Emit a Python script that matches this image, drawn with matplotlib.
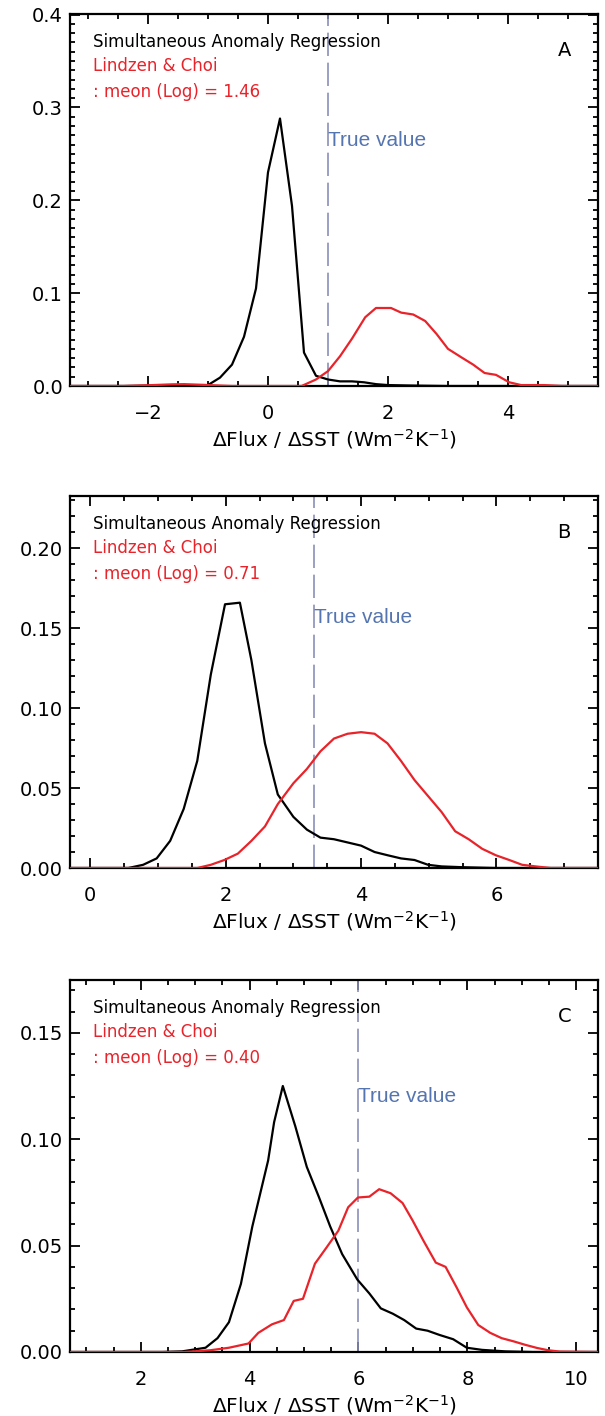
import numpy as np
import matplotlib
matplotlib.use('Agg')
import matplotlib.pyplot as plt
from matplotlib.ticker import MultipleLocator, FormatStrFormatter

# ── Panel A ──────────────────────────────────────────────────────────────────
xa_black = [-3.3, -2.4, -1.8, -1.4, -1.0, -0.8, -0.6, -0.4, -0.2, 0.0, 0.2, 0.4,
            0.6, 0.8, 1.0, 1.2, 1.4, 1.6, 1.8, 2.0, 2.4, 3.0, 5.5]
ya_black = [0.0, 0.0, 0.0005, 0.001, 0.001, 0.009, 0.023, 0.053, 0.105, 0.23,
            0.288, 0.194, 0.036, 0.011, 0.007, 0.005, 0.005, 0.004, 0.002,
            0.001, 0.0005, 0.0, 0.0]
xa_red = [-3.3, -2.4, -2.0, -1.6, -1.4, -1.0, -0.6, 0.0, 0.56, 0.8, 1.0, 1.2,
          1.4, 1.62, 1.8, 2.05, 2.22, 2.42, 2.62, 2.81, 3.0, 3.22, 3.42, 3.61,
          3.8, 4.02, 4.22, 4.6, 4.9, 5.5]
ya_red = [0.0, 0.0, 0.0008, 0.0018, 0.002, 0.001, 0.0, 0.0, 0.0, 0.007, 0.016,
          0.032, 0.051, 0.074, 0.084, 0.084, 0.079, 0.077, 0.070, 0.056, 0.040,
          0.031, 0.023, 0.014, 0.012, 0.004, 0.001, 0.001, 0.0, 0.0]

# ── Panel B ──────────────────────────────────────────────────────────────────
xb_black = [-0.3, 0.56, 0.78, 0.98, 1.18, 1.38, 1.58, 1.78, 1.99, 2.21, 2.38,
            2.58, 2.77, 3.0, 3.2, 3.4, 3.6, 3.8, 4.0, 4.2, 4.39, 4.59, 4.79,
            4.99, 5.19, 5.5, 6.0, 7.5]
yb_black = [0.0, 0.0, 0.002, 0.006, 0.017, 0.037, 0.067, 0.121, 0.165, 0.166,
            0.130, 0.078, 0.046, 0.032, 0.024, 0.019, 0.018, 0.016, 0.014,
            0.010, 0.008, 0.006, 0.005, 0.002, 0.001, 0.0005, 0.0, 0.0]
xb_red = [-0.3, 1.58, 1.78, 1.98, 2.18, 2.38, 2.58, 2.77, 3.0, 3.2, 3.4, 3.6,
          3.8, 4.0, 4.2, 4.39, 4.59, 4.79, 4.99, 5.19, 5.39, 5.59, 5.79, 5.99,
          6.19, 6.38, 6.58, 6.8, 7.5]
yb_red = [0.0, 0.0, 0.002, 0.005, 0.009, 0.017, 0.026, 0.040, 0.053, 0.062,
          0.073, 0.081, 0.084, 0.085, 0.084, 0.078, 0.067, 0.055, 0.045, 0.035,
          0.023, 0.018, 0.012, 0.008, 0.005, 0.002, 0.001, 0.0, 0.0]

# ── Panel C ──────────────────────────────────────────────────────────────────
xc_black = [0.7, 2.4, 2.76, 3.19, 3.41, 3.62, 3.84, 4.05, 4.34, 4.45, 4.61,
            4.84, 5.05, 5.27, 5.48, 5.70, 5.98, 6.20, 6.41, 6.63, 6.84, 7.06,
            7.27, 7.49, 7.74, 7.99, 8.27, 8.7, 9.2, 10.4]
yc_black = [0.0, 0.0, 0.0003, 0.002, 0.0065, 0.014, 0.032, 0.059, 0.090, 0.108,
            0.125, 0.106, 0.087, 0.073, 0.059, 0.046, 0.034, 0.0275, 0.0205,
            0.018, 0.015, 0.011, 0.010, 0.008, 0.006, 0.002, 0.001, 0.0003,
            0.0, 0.0]
xc_red = [0.7, 2.8, 3.27, 3.62, 3.80, 3.98, 4.16, 4.41, 4.63, 4.81, 4.98, 5.2,
          5.41, 5.63, 5.81, 5.99, 6.2, 6.38, 6.59, 6.81, 6.99, 7.2, 7.42, 7.6,
          7.81, 7.99, 8.2, 8.42, 8.63, 8.85, 9.06, 9.28, 9.49, 9.7, 10.4]
yc_red = [0.0, 0.0, 0.0008, 0.002, 0.003, 0.004, 0.009, 0.013, 0.015, 0.024,
          0.025, 0.0415, 0.049, 0.057, 0.068, 0.0726, 0.073, 0.0765, 0.0746,
          0.070, 0.062, 0.052, 0.042, 0.040, 0.030, 0.021, 0.0127, 0.009,
          0.0065, 0.005, 0.0034, 0.0019, 0.0008, 0.0002, 0.0]

PANELS = ['A', 'B', 'C']
MEANS = ['1.46', '0.71', '0.40']
TRUE_VALUES = [1.0, 3.3, 6.0]
XLIMS = [(-3.3, 5.5), (-0.3, 7.5), (0.7, 10.4)]
YLIMS = [(0, 0.401), (0, 0.233), (0, 0.175)]
Y_MAJOR = [0.1, 0.05, 0.05]
Y_FMT = ['%.1f', '%.2f', '%.2f']
TRUE_Y = [0.66, 0.673, 0.687]

blacks = [(xa_black, ya_black), (xb_black, yb_black), (xc_black, yc_black)]
reds = [(xa_red, ya_red), (xb_red, yb_red), (xc_red, yc_red)]

RED = '#e8232a'
DASH = '#8a8fb8'
BLUE_TXT = '#5575b0'
FONT = 'DejaVu Sans'

fig = plt.figure(figsize=(6.05, 14.16), dpi=100)
fig.patch.set_facecolor('white')
bottoms = [0.7274, 0.3870, 0.0452]

for i in range(3):
    ax = fig.add_axes([0.1157, bottoms[i], 0.8727, 0.2630])
    ax.plot(*blacks[i], color='black', lw=1.6, zorder=3)
    ax.plot(*reds[i], color=RED, lw=1.6, zorder=4)
    ax.axvline(TRUE_VALUES[i], color=DASH, lw=1.2, dashes=(14, 4), zorder=2)

    ax.set_xlim(*XLIMS[i])
    ax.set_ylim(*YLIMS[i])
    ax.xaxis.set_major_locator(MultipleLocator(2))
    ax.xaxis.set_minor_locator(MultipleLocator(0.5))
    ax.yaxis.set_major_locator(MultipleLocator(Y_MAJOR[i]))
    ax.yaxis.set_minor_locator(MultipleLocator(0.01))
    ax.yaxis.set_major_formatter(FormatStrFormatter(Y_FMT[i]))
    ax.tick_params(which='both', direction='in', top=True, right=True,
                   width=1.3, colors='black')
    ax.tick_params(which='major', length=7)
    ax.tick_params(which='minor', length=3.5)
    ax.tick_params(axis='x', which='major', pad=13, labelsize=14)
    ax.tick_params(axis='y', which='major', pad=5, labelsize=14)
    for lab in ax.get_xticklabels() + ax.get_yticklabels():
        lab.set_family(FONT)
    for sp in ax.spines.values():
        sp.set_linewidth(1.6)

    ax.set_xlabel(r'$\Delta$Flux / $\Delta$SST (Wm$^{-2}$K$^{-1}$)',
                  fontsize=14.5, family=FONT, labelpad=3)

    ax.text(0.044, 0.925, 'Simultaneous Anomaly Regression', transform=ax.transAxes,
            fontsize=12, family=FONT, color='black', va='center', ha='left')
    ax.text(0.044, 0.858, 'Lindzen & Choi', transform=ax.transAxes,
            fontsize=12, family=FONT, color=RED, va='center', ha='left')
    ax.text(0.044, 0.79, ': meon (Log) = ' + MEANS[i], transform=ax.transAxes,
            fontsize=12, family=FONT, color=RED, va='center', ha='left')
    ax.text(0.936, 0.90, PANELS[i], transform=ax.transAxes,
            fontsize=14, family=FONT, color='black', va='center', ha='center')
    ax.text(TRUE_VALUES[i], TRUE_Y[i], 'True value',
            transform=ax.get_xaxis_transform(), fontsize=15,
            family='Liberation Sans', color=BLUE_TXT, va='center', ha='left')

fig.savefig('out.png', dpi=100, facecolor='white')
plt.close(fig)
